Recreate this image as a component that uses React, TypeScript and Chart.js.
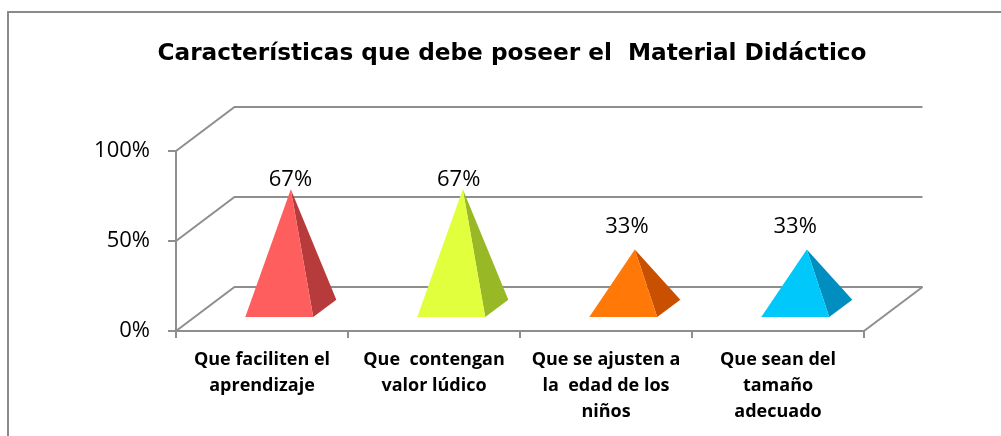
import { useEffect, useRef } from 'react';
import { Chart, registerables } from 'chart.js';

Chart.register(...registerables);

// ---- data ----
const titleText = 'Características que debe poseer el  Material Didáctico';
const categories: string[][] = [
  ['Que faciliten el', 'aprendizaje'],
  ['Que  contengan', 'valor lúdico'],
  ['Que se ajusten a', 'la  edad de los', 'niños'],
  ['Que sean del', 'tamaño', 'adecuado'],
];
const values = [66.7, 66.7, 33.3, 33.3];
const yTicks = [0, 50, 100];
const frontColors = ['#FF5E5E', '#E1FF3D', '#FF7808', '#00C8FA'];
const sideColors = ['#B83B3B', '#98B925', '#C95000', '#008DBF'];

// ---- style ----
const GRID = '#8e8e8e';
const DX = 58.5;
const DY = -44;
const D_FRONT = 0.295;
const D_BACK = 0.69;

const threeD = {
  id: 'threeD',
  beforeDraw(chart: any) {
    const { ctx } = chart;
    ctx.save();
    ctx.strokeStyle = '#8a8a8a';
    ctx.lineWidth = 2;
    ctx.strokeRect(8, 12, 1200, 600);
    ctx.restore();
  },
  beforeDatasetsDraw(chart: any) {
    const { ctx, chartArea, scales } = chart;
    const { left, right } = chartArea;
    const y = scales.y;
    ctx.save();
    ctx.strokeStyle = GRID;
    ctx.lineWidth = 2;
    ctx.lineJoin = 'miter';
    yTicks.forEach((v) => {
      const py = y.getPixelForValue(v);
      ctx.beginPath();
      ctx.moveTo(left, py);
      ctx.lineTo(left + DX, py + DY);
      ctx.lineTo(right + DX, py + DY);
      ctx.stroke();
    });
    const p0 = y.getPixelForValue(0);
    ctx.beginPath();
    ctx.moveTo(right, p0);
    ctx.lineTo(right + DX, p0 + DY);
    ctx.stroke();
    ctx.restore();
  },
  afterDatasetsDraw(chart: any) {
    const { ctx, chartArea } = chart;
    const meta = chart.getDatasetMeta(0);
    const P = (px: number, py: number, d: number) => [px + d * DX, py + d * DY];
    meta.data.forEach((bar: any, i: number) => {
      const { x, y: top, base, width } = bar.getProps(['x', 'y', 'base', 'width'], true);
      const fl = P(x - width / 2, base, D_FRONT);
      const fr = P(x + width / 2, base, D_FRONT);
      const br = P(x + width / 2, base, D_BACK);
      const dm = (D_FRONT + D_BACK) / 2;
      const apex = P(x, top, dm);
      ctx.save();
      // side face
      ctx.fillStyle = sideColors[i];
      ctx.beginPath();
      ctx.moveTo(fr[0], fr[1]);
      ctx.lineTo(br[0], br[1]);
      ctx.lineTo(apex[0], apex[1]);
      ctx.closePath();
      ctx.fill();
      // front face
      ctx.fillStyle = frontColors[i];
      ctx.beginPath();
      ctx.moveTo(fl[0], fl[1]);
      ctx.lineTo(fr[0], fr[1]);
      ctx.lineTo(apex[0], apex[1]);
      ctx.closePath();
      ctx.fill();
      // label
      const v = values[i];
      const shift = (x - chartArea.left) / (chartArea.right - chartArea.left);
      const lx = apex[0] + 1.5 - 15 * shift;
      const ly = apex[1] - (35.5 - 0.393 * v);
      ctx.fillStyle = '#000';
      ctx.font = '22px "Open Sans"';
      ctx.textAlign = 'center';
      ctx.textBaseline = 'middle';
      ctx.fillText(`${Math.round(v)}%`, lx, ly);
      ctx.restore();
    });
  },
};

export default function App() {
  const ref = useRef<HTMLCanvasElement>(null);
  useEffect(() => {
    document.body.style.margin = '0';
    const canvas = ref.current!;
    const chart = new Chart(canvas, {
      type: 'bar',
      data: {
        labels: categories,
        datasets: [
          {
            data: values,
            backgroundColor: 'rgba(0,0,0,0)',
            borderWidth: 0,
            barPercentage: 0.395,
            categoryPercentage: 1,
          },
        ],
      },
      options: {
        responsive: false,
        animation: false,
        devicePixelRatio: 1,
        layout: { padding: { left: 23, right: 0, top: 0, bottom: 0 } },
        plugins: {
          legend: { display: false },
          tooltip: { enabled: false },
          title: {
            display: true,
            text: titleText,
            color: '#000',
            font: { family: '"DejaVu Sans"', weight: 'bold', size: 23.2, lineHeight: 1.2 },
            padding: { top: 40.5, bottom: 82.66 },
          },
        },
        scales: {
          x: {
            type: 'category',
            grid: {
              offset: true,
              drawOnChartArea: false,
              drawTicks: true,
              tickLength: 7,
              color: GRID,
              lineWidth: 2,
            },
            border: { display: true, color: GRID, width: 2 },
            ticks: {
              color: '#000',
              font: { family: '"Open Sans"', weight: 'bold', size: 18, lineHeight: 1.444 },
              padding: 9,
              maxRotation: 0,
              minRotation: 0,
              autoSkip: false,
            },
            afterFit(s: any) {
              s.height = 105;
            },
          },
          y: {
            type: 'linear',
            min: 0,
            max: 100,
            afterBuildTicks(s: any) {
              s.ticks = yTicks.map((v) => ({ value: v }));
            },
            grid: {
              drawOnChartArea: false,
              drawTicks: true,
              tickLength: 8,
              color: GRID,
              lineWidth: 2,
            },
            border: { display: true, color: GRID, width: 2 },
            ticks: {
              color: '#000',
              font: { family: '"Open Sans"', size: 22 },
              padding: 18,
              callback: (v: any) => `${v}%`,
            },
            afterFit(s: any) {
              s.width = 153;
            },
          },
          y2: {
            type: 'linear',
            position: 'right',
            display: true,
            grid: { display: false },
            border: { display: false },
            ticks: { display: false },
            afterFit(s: any) {
              s.width = 137;
            },
          },
        },
      },
      plugins: [threeD],
    });
    return () => chart.destroy();
  }, []);
  return (
    <canvas
      ref={ref}
      width={1001}
      height={436}
      style={{ display: 'block', width: '1001px', height: '436px' }}
    />
  );
}
